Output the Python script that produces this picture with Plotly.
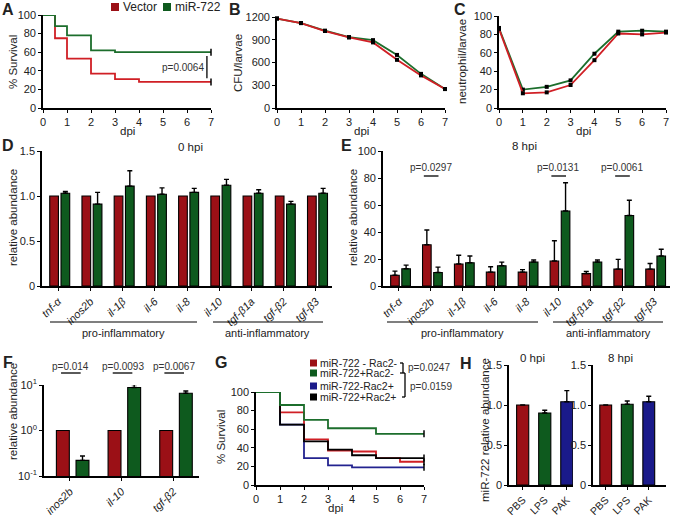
import plotly.graph_objects as go

W, H = 674, 515
FONT = "Arial, 'Liberation Sans', sans-serif"

RED_BAR = "#9B1016"
GREEN_BAR = "#0E5A1E"
BLUE_BAR = "#1A1A8A"
RED_LINE = "#D01F25"
GREEN_LINE = "#1C6E2C"
BLUE_LINE = "#23238F"

# ---------------- data ----------------
# A: survival, Vector vs miR-722
a_days_vector = [0, 0.5, 1, 2, 3, 4, 7]
a_surv_vector = [100, 75, 53, 37, 31, 28, 28]
a_days_mir = [0, 0.5, 1, 2, 3, 7]
a_surv_mir = [100, 88, 78, 62, 60, 60]

# B, C
dpi = [0, 1, 2, 3, 4, 5, 6, 7]
cfu_vector = [1180, 1120, 1015, 930, 865, 635, 430, 250]
cfu_mir = [1180, 1120, 1020, 935, 895, 700, 450, 250]
neut_vector = [86, 16, 17, 25, 52, 81, 80, 82]
neut_mir = [87, 20, 23, 30, 59, 83, 84, 83]

# D, E: cytokine expression
genes = ["tnf-α", "inos2b", "il-1β", "il-6", "il-8", "il-10", "tgf-β1a", "tgf-β2", "tgf-β3"]
d_vector = [1.0, 1.0, 1.0, 1.0, 1.0, 1.0, 1.0, 1.0, 1.0]
d_mir = [1.03, 0.91, 1.11, 1.02, 1.04, 1.12, 1.03, 0.91, 1.03]
d_mir_err = [0.02, 0.13, 0.17, 0.07, 0.045, 0.065, 0.04, 0.03, 0.055]
e_vector = [8, 30.5, 16.3, 10.3, 10.3, 18.5, 9.2, 12.5, 12.5]
e_vector_err = [3, 11, 6.5, 4, 1.8, 15, 1.5, 7.2, 4.2]
e_mir = [12.8, 10, 17.2, 15, 17.8, 55.5, 17.8, 52.2, 22.2]
e_mir_err = [2.7, 4, 5, 2.7, 1.5, 21, 1.5, 11.3, 5]
e_pvals = ["p=0.0297", "p=0.0131", "p=0.0061"]
e_pval_idx = [1, 5, 7]

# F
f_genes = ["inos2b", "il-10", "tgf-β2"]
f_vector = [1.0, 1.0, 1.0]
f_mir = [0.22, 8.8, 6.6]
f_mir_err = [0.055, 1.4, 0.8]
f_pvals = ["p=0.014", "p=0.0093", "p=0.0067"]

# G: survival four groups
g_days = [0, 1, 2, 3, 4, 5, 6, 7]
g_names = ["miR-722 - Rac2-", "miR-722+Rac2-", "miR-722-Rac2+", "miR-722+Rac2+"]
g_red = [100, 78, 49, 37, 36, 29, 25, 25]
g_green = [100, 86, 70, 61, 61, 55, 55, 55]
g_blue = [100, 65, 29, 21, 19, 19, 19, 19]
g_black = [100, 65, 47, 38, 32, 29, 29, 29]

# H
h_groups = ["PBS", "LPS", "PAK"]
h0_vals = [1.0, 0.90, 1.04]
h0_err = [0, 0.035, 0.14]
h8_vals = [1.0, 1.01, 1.04]
h8_err = [0, 0.04, 0.07]


def px(x):
    return x / W


def py(y):
    return 1 - y / H


fig = go.Figure()

AX = dict(showline=True, linecolor="black", linewidth=1.6, ticks="outside", ticklen=3,
          tickwidth=1.4, tickcolor="black", showgrid=False, zeroline=False, automargin=False,
          tickfont=dict(size=11, color="#222", family=FONT), mirror=False)


def add_axes(n, xdom, ydom, xrange, yrange, xkw=None, ykw=None):
    sx = "" if n == 1 else str(n)
    xa = dict(AX, domain=[px(xdom[0]), px(xdom[1])], range=xrange, anchor="y" + sx)
    ya = dict(AX, domain=[py(ydom[1]), py(ydom[0])], range=yrange, anchor="x" + sx)
    if xkw:
        xa.update(xkw)
    if ykw:
        ya.update(ykw)
    fig.update_layout(**{"xaxis" + sx: xa, "yaxis" + sx: ya})
    return "x" + sx, "y" + sx


def errbar(arr):
    return dict(type="data", array=arr, arrayminus=[0] * len(arr), symmetric=False,
                color="black", thickness=1.4, width=2.5)


BAR_LINE = dict(color="black", width=1.1)

# ---------- A ----------
xa, ya = add_axes(1, (43, 211), (15, 108), [0, 7], [0, 100],
                  dict(dtick=1), dict(dtick=20))
fig.add_trace(go.Scatter(x=a_days_vector, y=a_surv_vector, mode="lines", line_shape="hv",
                         line=dict(color=RED_LINE, width=1.8), xaxis=xa, yaxis=ya, cliponaxis=False))
fig.add_trace(go.Scatter(x=a_days_mir, y=a_surv_mir, mode="lines", line_shape="hv",
                         line=dict(color=GREEN_LINE, width=1.8), xaxis=xa, yaxis=ya, cliponaxis=False))
fig.add_trace(go.Scatter(x=[a_days_vector[-1], a_days_mir[-1]], y=[a_surv_vector[-1], a_surv_mir[-1]],
                         mode="markers", marker=dict(symbol="line-ns", size=5, line=dict(color="black", width=1.5)),
                         xaxis=xa, yaxis=ya, cliponaxis=False))

# ---------- B ----------
xb, yb = add_axes(2, (277, 445), (17, 108), [0, 7], [0, 1200],
                  dict(dtick=1), dict(tickvals=[0, 300, 600, 900, 1200]))
for vals, col in [(cfu_mir, GREEN_LINE), (cfu_vector, RED_LINE)]:
    fig.add_trace(go.Scatter(x=dpi, y=vals, mode="lines+markers", line=dict(color=col, width=1.8),
                             marker=dict(symbol="square", size=4, color="black"),
                             xaxis=xb, yaxis=yb, cliponaxis=False))

# ---------- C ----------
xc, yc = add_axes(3, (499, 666), (16, 108), [0, 7], [0, 100],
                  dict(dtick=1), dict(dtick=20))
for vals, col in [(neut_mir, GREEN_LINE), (neut_vector, RED_LINE)]:
    fig.add_trace(go.Scatter(x=dpi, y=vals, mode="lines+markers", line=dict(color=col, width=1.8),
                             marker=dict(symbol="square", size=4, color="black"),
                             xaxis=xc, yaxis=yc, cliponaxis=False))

# ---------- D ----------
idx9 = list(range(len(genes)))
gene_tt = ["<i>%s</i>" % g for g in genes]
xd, yd = add_axes(4, (42, 332), (151, 286), [-0.5, 8.5], [0, 1.5],
                  dict(tickvals=idx9, ticktext=gene_tt, tickangle=-45),
                  dict(tickvals=[0, 0.5, 1.0, 1.5], ticktext=["0", "0.5", "1.0", "1.5"]))
fig.add_trace(go.Bar(x=idx9, y=d_vector, width=0.27, offset=-0.26,
                     marker=dict(color=RED_BAR, line=BAR_LINE), xaxis=xd, yaxis=yd))
fig.add_trace(go.Bar(x=idx9, y=d_mir, width=0.27, offset=0.09,
                     marker=dict(color=GREEN_BAR, line=BAR_LINE), error_y=errbar(d_mir_err),
                     xaxis=xd, yaxis=yd))

# ---------- E ----------
xe, ye = add_axes(5, (383, 670), (151, 286), [-0.5, 8.5], [0, 100],
                  dict(tickvals=idx9, ticktext=gene_tt, tickangle=-45),
                  dict(dtick=20))
fig.add_trace(go.Bar(x=idx9, y=e_vector, width=0.27, offset=-0.26,
                     marker=dict(color=RED_BAR, line=BAR_LINE), error_y=errbar(e_vector_err),
                     xaxis=xe, yaxis=ye))
fig.add_trace(go.Bar(x=idx9, y=e_mir, width=0.27, offset=0.09,
                     marker=dict(color=GREEN_BAR, line=BAR_LINE), error_y=errbar(e_mir_err),
                     xaxis=xe, yaxis=ye))

# ---------- F ----------
idx3 = [0, 1, 2]
xf, yf = add_axes(6, (44, 199), (385, 476), [-0.5, 2.5], [-1, 1],
                  dict(tickvals=idx3, ticktext=["<i>%s</i>" % g for g in f_genes], tickangle=-45),
                  dict(type="log", tickvals=[0.1, 1, 10],
                       ticktext=["10<sup>-1</sup>", "10<sup>0</sup>", "10<sup>1</sup>"]))
fig.add_trace(go.Bar(x=idx3, y=f_vector, width=0.25, offset=-0.26,
                     marker=dict(color=RED_BAR, line=BAR_LINE), xaxis=xf, yaxis=yf))
fig.add_trace(go.Bar(x=idx3, y=f_mir, width=0.25, offset=0.12,
                     marker=dict(color=GREEN_BAR, line=BAR_LINE), error_y=errbar(f_mir_err),
                     xaxis=xf, yaxis=yf))

# ---------- G ----------
xg, yg = add_axes(7, (256, 424), (392, 485), [0, 7], [0, 100],
                  dict(dtick=1), dict(dtick=20))
g_series = [(g_blue, BLUE_LINE), (g_red, RED_LINE), (g_black, "black"), (g_green, GREEN_LINE)]
for vals, col in g_series:
    fig.add_trace(go.Scatter(x=g_days, y=vals, mode="lines", line_shape="hv",
                             line=dict(color=col, width=1.8), xaxis=xg, yaxis=yg, cliponaxis=False))
fig.add_trace(go.Scatter(x=[7, 7, 7, 7], y=[g_green[-1], g_black[-1], g_red[-1], g_blue[-1]],
                         mode="markers", marker=dict(symbol="line-ns", size=5, line=dict(color="black", width=1.5)),
                         xaxis=xg, yaxis=yg, cliponaxis=False))

# ---------- H ----------
h_idx = [0, 1, 2]
h_cols = [RED_BAR, GREEN_BAR, BLUE_BAR]
hx = dict(tickvals=h_idx, ticktext=h_groups, tickangle=-45, tickfont=dict(size=10.5, color="#222", family=FONT))
hy = dict(tickvals=[0, 0.5, 1.0, 1.5], ticktext=["0", "0.5", "1.0", "1.5"])
xh1, yh1 = add_axes(8, (509, 573), (365, 485), [-0.62, 2.28], [0, 1.5], hx, hy)
xh2, yh2 = add_axes(9, (593, 666), (365, 485), [-0.59, 2.8], [0, 1.5], hx, hy)
fig.add_trace(go.Bar(x=h_idx, y=h0_vals, width=0.55, marker=dict(color=h_cols, line=BAR_LINE),
                     error_y=errbar(h0_err), xaxis=xh1, yaxis=yh1))
fig.add_trace(go.Bar(x=h_idx, y=h8_vals, width=0.55, marker=dict(color=h_cols, line=BAR_LINE),
                     error_y=errbar(h8_err), xaxis=xh2, yaxis=yh2))

# ---------- annotations ----------
ann = []
shapes = []


def text(x, y, s, size=11.5, angle=0, xanchor="center", bold=False, xref="paper", yref="paper", color="#222"):
    if xref == "paper":
        x = px(x)
    if yref == "paper":
        y = py(y)
    ann.append(dict(x=x, y=y, xref=xref, yref=yref, text=("<b>%s</b>" % s) if bold else s,
                    showarrow=False, textangle=angle, xanchor=xanchor, yanchor="middle",
                    font=dict(size=size, family=FONT, color=color)))


def line(x0, y0, x1, y1, xref="paper", yref="paper", width=1.3, color="black"):
    if xref == "paper":
        x0, x1 = px(x0), px(x1)
    if yref == "paper":
        y0, y1 = py(y0), py(y1)
    shapes.append(dict(type="line", x0=x0, y0=y0, x1=x1, y1=y1, xref=xref, yref=yref,
                       line=dict(color=color, width=width)))


# panel letters
for s, x, y in [("A", 8, 10), ("B", 235, 10), ("C", 460, 10), ("D", 8, 145), ("E", 346, 145),
                ("F", 8, 362), ("G", 221, 362), ("H", 466, 363)]:
    text(x, y, s, size=16, bold=True)

# axis titles
text(13, 62, "% Survival", angle=-90)
text(127, 131, "dpi")
text(238, 63, "CFU/larvae", angle=-90)
text(361, 131, "dpi")
text(462, 62, "neutrophil/larvae", angle=-90)
text(583, 131, "dpi")
text(13, 218, "relative abundance", angle=-90)
text(353, 218, "relative abundance", angle=-90)
text(13, 412, "relative abundance", angle=-90)
text(221, 437, "% Survival", angle=-90)
text(335, 508, "dpi")
text(485, 430, "miR-722 relative abundance", angle=-90)

# A legend
shapes.append(dict(type="rect", x0=px(111), x1=px(119), y0=py(11), y1=py(3), xref="paper", yref="paper",
                   fillcolor=RED_BAR, line=dict(width=0)))
text(121, 7, "Vector", size=12, xanchor="left")
shapes.append(dict(type="rect", x0=px(163), x1=px(171), y0=py(11), y1=py(3), xref="paper", yref="paper",
                   fillcolor=GREEN_BAR, line=dict(width=0)))
text(173, 7, "miR-722", size=12, xanchor="left")
# A p-value
text(183, 68, "p=0.0064", size=10, color="#333")
line(6.83, 32, 6.83, 56, xref=xa, yref=ya)

# hpi labels
text(190, 147, "0 hpi")
text(524, 146, "8 hpi")
text(532, 358, "0 hpi")
text(620, 358, "8 hpi")

# D / E group lines
for (l0, l1, t0), (a0, a1, t1) in [((50, 197, 123), (213, 323, 267)), ((387, 538, 462), (553, 663, 608))]:
    line(l0, 322, l1, 322, width=1.1)
    line(a0, 322, a1, 322, width=1.1)
    text(t0, 333, "pro-inflammatory", size=11)
    text(t1, 333, "anti-inflammatory", size=11)

# E p-values
for s, i in zip(e_pvals, e_pval_idx):
    text(i, 167, s, size=10, xref=xe, color="#333")
    line(i - 0.22, 176, i + 0.24, 176, xref=xe, width=1.3)

# F p-values
for s, i in zip(f_pvals, idx3):
    text(i + 0.02, 366, s, size=10, xref=xf, color="#333")
    line(i - 0.17, 373, i + 0.21, 373, xref=xf, width=1.3)

# G legend
g_cols = [RED_BAR, GREEN_BAR, BLUE_BAR, "black"]
g_rows = [363, 373, 386, 397]
for name, col, yy in zip(g_names, g_cols, g_rows):
    shapes.append(dict(type="rect", x0=px(310), x1=px(317), y0=py(yy + 3.5), y1=py(yy - 3.5),
                       xref="paper", yref="paper", fillcolor=col, line=dict(width=0)))
    text(318, yy, name, size=10.5, xanchor="left")
# brackets
line(400, 363, 403, 363)
line(403, 363, 403, 373)
line(400, 373, 405, 373)
text(406, 367, "p=0.0247", size=10, xanchor="left", color="#333")
line(405, 373, 405, 397)
line(402, 397, 405, 397)
text(408, 386, "p=0.0159", size=10, xanchor="left", color="#333")

fig.update_layout(width=W, height=H, margin=dict(l=0, r=0, t=0, b=0),
                  plot_bgcolor="white", paper_bgcolor="white", showlegend=False,
                  barmode="overlay", annotations=ann, shapes=shapes,
                  font=dict(family=FONT, size=11, color="#222"))

fig.write_html("out.html", config={"displayModeBar": False},
               post_script="document.body.style.margin='0';document.body.style.overflow='hidden';")
